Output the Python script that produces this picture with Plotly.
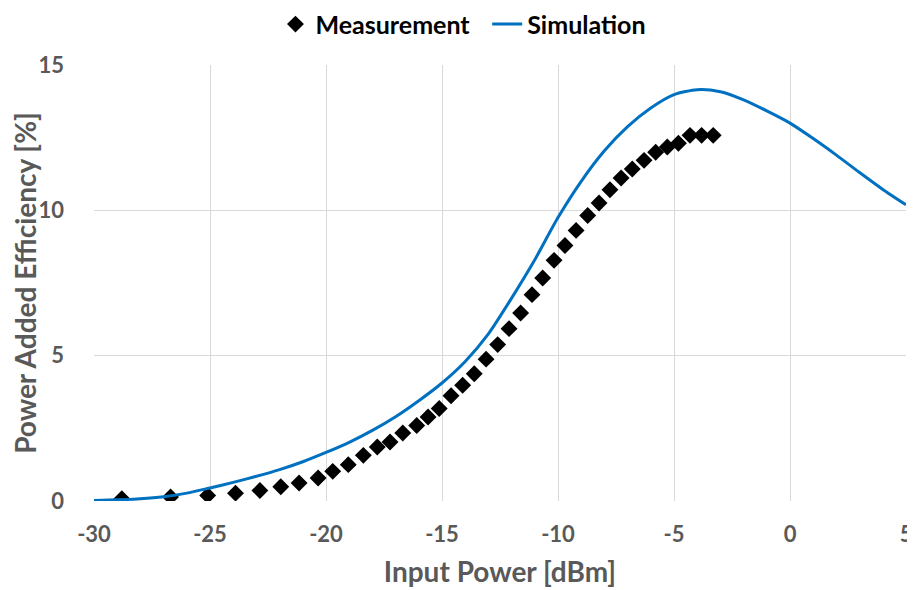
import plotly.graph_objects as go

meas_x = [-28.8, -26.7, -25.1, -23.9, -22.85, -21.95, -21.16, -20.34, -19.71, -19.04,
          -18.39, -17.79, -17.24, -16.69, -16.09, -15.6, -15.12, -14.61, -14.11, -13.61,
          -13.1, -12.6, -12.11, -11.61, -11.12, -10.66, -10.17, -9.7, -9.22, -8.72,
          -8.23, -7.76, -7.28, -6.8, -6.29, -5.79, -5.29, -4.81, -4.31, -3.81, -3.31]
meas_y = [0.08, 0.14, 0.19, 0.27, 0.36, 0.49, 0.62, 0.79, 1.02, 1.25,
          1.57, 1.86, 2.03, 2.34, 2.6, 2.89, 3.18, 3.62, 3.98, 4.38,
          4.88, 5.38, 5.93, 6.47, 7.1, 7.67, 8.28, 8.79, 9.31, 9.82,
          10.25, 10.71, 11.11, 11.42, 11.72, 12.0, 12.18, 12.31, 12.58, 12.58, 12.58]

sim_x = [-30, -29, -28, -27, -26, -25, -24, -23, -22, -21, -20, -19, -18, -17, -16,
         -15, -14, -13, -12, -11, -10, -9, -8, -7, -6, -5, -4, -3, -2, -1, 0,
         1, 2, 3, 4, 5]
sim_y = [0.02, 0.04, 0.08, 0.15, 0.27, 0.45, 0.64, 0.85, 1.08, 1.35, 1.67, 2.02, 2.43,
         2.9, 3.45, 4.06, 4.8, 5.75, 6.98, 8.3, 9.75, 11.0, 12.05, 12.88, 13.52, 13.98,
         14.15, 14.08, 13.8, 13.42, 13.0, 12.47, 11.9, 11.3, 10.72, 10.19]

x_ticks = [-30, -25, -20, -15, -10, -5, 0, 5]
y_ticks = [0, 5, 10, 15]

FONT = "Lato"
GRAY = "#595959"

fig = go.Figure()
fig.add_trace(go.Scatter(
    x=meas_x, y=meas_y, mode="markers", name="<b>Measurement</b>\u2002",
    marker=dict(symbol="diamond", size=13, color="black"),
))
fig.add_trace(go.Scatter(
    x=sim_x, y=sim_y, mode="lines", name="<b>Simulation</b>",
    line=dict(color="#0070C0", width=3, shape="spline", smoothing=0.7),
))

fig.update_layout(
    width=915, height=590,
    margin=dict(l=86, r=17, t=57, b=97, autoexpand=False),
    paper_bgcolor="white", plot_bgcolor="white",
    font=dict(family=FONT, color=GRAY),
    legend=dict(orientation="h", x=0.455, xanchor="center", y=1.146, yanchor="top",
                bgcolor="rgba(0,0,0,0)",
                font=dict(size=25, color="black", family=FONT),
                itemwidth=30, tracegroupgap=0),
    xaxis=dict(range=[-30, 5], tickvals=x_ticks, ticktext=[f"<b>{v}</b>" for v in x_ticks],
               showgrid=True, gridcolor="#D9D9D9", gridwidth=1, zeroline=False,
               showline=False, ticks="", ticklabelstandoff=18,
               tickfont=dict(size=22, color=GRAY, family=FONT),
               title=dict(text="<b>Input Power [dBm]</b>", font=dict(size=28, color=GRAY, family=FONT),
                          standoff=16)),
    yaxis=dict(range=[0, 15], tickvals=y_ticks, ticktext=[f"<b>{v}</b>" for v in y_ticks],
               showgrid=True, gridcolor="#D9D9D9", gridwidth=1, zeroline=False,
               showline=False, ticks="", ticklabelstandoff=29,
               tickfont=dict(size=22, color=GRAY, family=FONT),
               title=dict(text="<b>Power Added Efficiency [%]</b>", font=dict(size=28, color=GRAY, family=FONT),
                          standoff=2)),
)

fig.write_html("out.html")
